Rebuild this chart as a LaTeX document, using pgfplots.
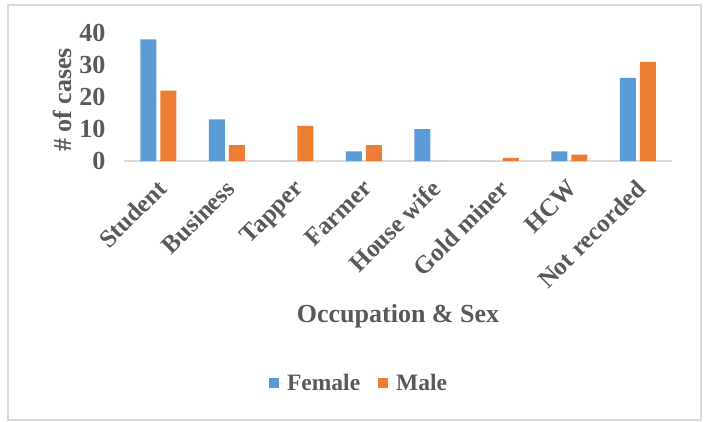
\documentclass[border=0pt]{standalone}
\usepackage{pgfplots}
\pgfplotsset{compat=1.18}
\usepackage{fontspec}
\setmainfont{Liberation Serif}
\definecolor{fblue}{HTML}{5B9BD5}
\definecolor{morange}{HTML}{ED7D31}
\definecolor{txt}{HTML}{595959}
\definecolor{grid}{HTML}{D9D9D9}
\newcommand\lbl{\fontsize{26bp}{30bp}\selectfont\bfseries}
\newcommand\xlbl{\fontsize{25bp}{29bp}\selectfont\bfseries}
\newcommand\lgd{\fontsize{23.5bp}{27bp}\selectfont\bfseries}
\begin{document}
\begin{tikzpicture}[x=1bp,y=1bp]
\useasboundingbox (0,0) rectangle (705,421);
\draw[grid, line width=1.5bp] (8,1) rectangle (701,416);
\begin{axis}[
  at={(124bp,260bp)}, anchor=south west,
  scale only axis, width=548bp, height=128bp,
  ybar=4bp, bar width=16bp,
  xmin=-0.5, xmax=7.5, ymin=0, ymax=40,
  xtick=data,
  xticklabels={Student,Business,Tapper,Farmer,House wife,Gold miner,HCW,Not recorded},
  ytick={0,10,20,30,40},
  axis lines*=left,
  y axis line style={draw=none},
  x axis line style={draw=grid, line width=1.2bp},
  major tick length=0pt,
  /pgf/number format/assume math mode=true,
  yticklabel style={font=\lbl, text=txt, xshift=-15bp},
  xticklabel style={font=\xlbl, text=txt, rotate=45, anchor=north east, inner sep=0pt, xshift=-13.75bp, yshift=-10.25bp},
  ylabel={\# of cases},
  ylabel style={font=\lbl, text=txt, at={(axis description cs:-0.113,0.477)}, anchor=center},
  xlabel={Occupation \& Sex},
  xlabel style={font=\lbl, text=txt, at={(axis description cs:0.5,-1.21)}, anchor=center},
  legend style={at={(axis description cs:0.429,-1.734)}, anchor=center, draw=none, legend columns=2, font=\lgd, text=txt, /tikz/every even column/.append style={column sep=16bp}},
  legend image code/.code={\path (0bp,0bp) rectangle (16bp,0bp); \fill[#1] (0bp,-5bp) rectangle (10bp,5bp);},
  clip=false,
]
\addplot[fill=fblue, draw=none] coordinates {(0,38) (1,13) (2,0) (3,3) (4,10) (5,0) (6,3) (7,26)};
\addplot[fill=morange, draw=none] coordinates {(0,22) (1,5) (2,11) (3,5) (4,0) (5,1) (6,2) (7,31)};
\legend{Female,Male}
\end{axis}
\end{tikzpicture}
\end{document}
